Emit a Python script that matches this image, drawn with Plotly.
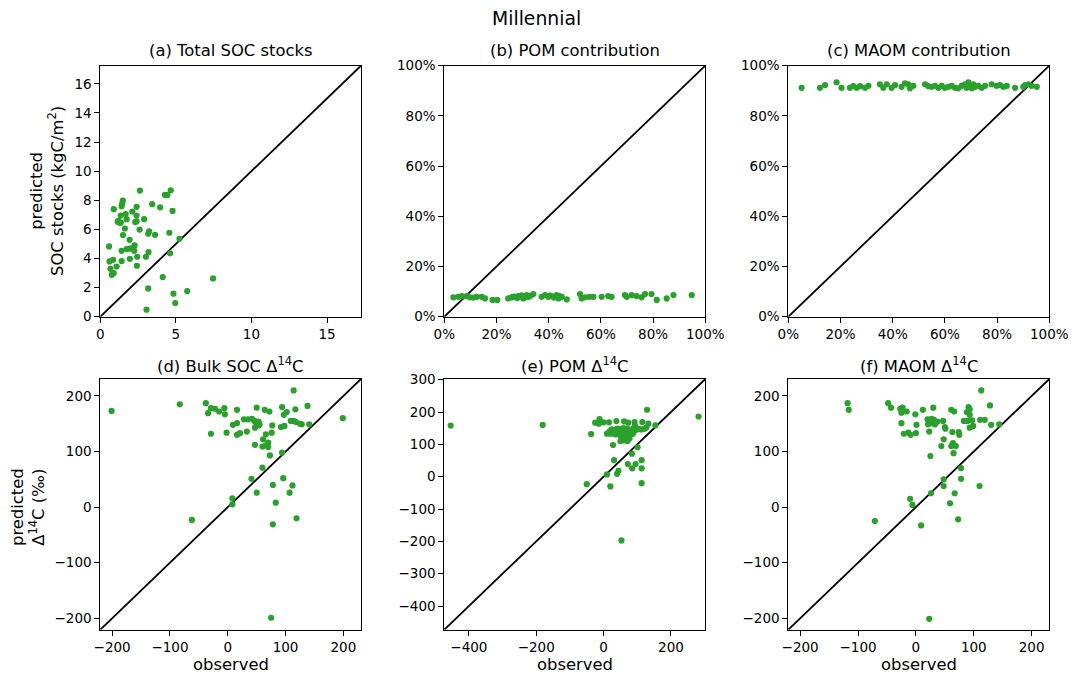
import plotly.graph_objects as go

# ---------------- data ----------------
# (a) total SOC stocks, kgC/m2
soc_obs = [2.62, 4.66, 4.28, 4.44, 1.49, 1.45, 1.41, 0.89, 2.40, 3.43, 3.96, 4.78,
           2.12, 1.68, 1.35, 2.40, 1.74, 2.90, 1.19, 1.28, 1.36, 1.15, 2.31, 2.40,
           1.63, 2.60, 3.23, 3.17, 3.62, 4.57, 1.50, 5.24, 1.94, 0.58, 2.27, 2.12,
           1.94, 2.25, 1.41, 1.74, 3.19, 4.62, 2.44, 3.02, 1.96, 0.85, 0.61, 1.41,
           2.42, 1.08, 0.67, 0.89, 0.76, 4.13, 7.46, 3.17, 5.75, 4.84, 4.96, 3.06]
soc_pred = [8.67, 8.69, 8.37, 8.37, 7.98, 7.79, 7.59, 7.39, 7.55, 7.73, 7.52, 7.27,
            7.23, 7.05, 6.95, 6.95, 6.70, 6.70, 6.58, 6.45, 6.47, 6.52, 6.50, 6.56,
            6.06, 5.99, 5.86, 5.70, 5.63, 5.77, 5.61, 5.35, 5.28, 4.83, 4.90, 4.74,
            4.67, 4.53, 4.53, 4.65, 4.44, 4.35, 4.12, 4.12, 3.98, 3.91, 3.80, 3.82,
            3.50, 3.45, 3.29, 3.00, 2.88, 2.72, 2.63, 1.94, 1.76, 1.58, 0.94, 0.48]

# (b) POM share of SOC, %
pom_obs = [3.5, 5.4, 6.7, 8.6, 9.8, 11.1, 12.4, 14.3, 15.6, 18.5, 20.3, 24.5,
           25.8, 26.5, 27.1, 28.0, 28.4, 29.0, 29.6, 30.3, 30.9, 31.6, 32.2, 33.0,
           34.1, 37.3, 38.6, 39.9, 40.5, 41.1, 42.0, 43.0, 43.7, 44.0, 45.0, 46.9,
           52.0, 52.6, 53.9, 55.6, 57.1, 60.3, 62.8, 64.1, 69.2, 69.9, 71.8, 73.7,
           75.6, 76.9, 79.4, 81.4, 85.2, 87.8, 94.8]
pom_pred = [7.7, 7.9, 8.2, 8.2, 7.7, 7.6, 7.9, 7.9, 7.3, 6.7, 6.7, 7.3,
            7.7, 8.0, 7.9, 7.5, 8.2, 8.0, 8.5, 7.3, 7.7, 8.6, 7.9, 8.3,
            9.0, 7.9, 8.6, 7.9, 8.4, 8.2, 7.6, 8.6, 7.3, 8.3, 7.9, 6.9,
            9.0, 7.3, 7.7, 7.9, 7.9, 7.9, 8.2, 7.9, 8.6, 7.9, 8.6, 8.2,
            7.7, 9.0, 9.0, 6.7, 7.3, 8.6, 8.6]

# (c) MAOM share of SOC, %
maom_obs = [5.1, 12.1, 14.1, 18.5, 20.4, 23.6, 24.9, 26.2, 27.5, 29.4, 30.7, 35.1,
            36.4, 37.7, 39.6, 40.9, 43.4, 44.7, 46.0, 46.6, 47.9, 52.4, 53.6, 54.9,
            56.2, 57.5, 58.8, 60.0, 61.3, 62.6, 63.9, 65.1, 66.4, 67.7, 68.3, 69.0,
            69.6, 70.3, 70.9, 71.5, 72.8, 74.1, 75.4, 77.9, 79.8, 81.1, 82.4, 83.7,
            86.9, 90.0, 90.7, 92.0, 93.2, 95.2]
maom_pred = [91.2, 91.2, 92.3, 93.4, 91.2, 91.2, 91.9, 91.2, 91.9, 91.2, 92.0, 92.6,
             91.2, 92.6, 91.2, 92.3, 91.6, 93.0, 92.6, 91.0, 92.0, 92.6, 91.9, 91.6,
             92.0, 91.2, 92.0, 91.2, 91.6, 92.0, 91.2, 91.0, 92.0, 92.6, 91.2, 93.4,
             91.6, 91.0, 92.6, 91.6, 92.0, 91.2, 92.0, 92.6, 92.0, 92.3, 91.6, 92.0,
             91.2, 91.6, 92.3, 92.6, 92.0, 91.6]

# (d) bulk SOC radiocarbon, permil
bulk14_obs = [-201, -83, -38, -34, -29, -22, -15, -6, -5, -29, -2, 16, 9, 16, 21, 16,
              28, 35, 42, 46, 50, 53, 47, 53, 55, 49, 33, 50, 64, 72, 77, 76, 66, 61,
              47, 60, 66, 70, 70, 73, 94, 60, 41, 78, 96, 112, 50, 107, 8, 8, 83,
              -62, 119, 78, 94, 102, 97, 117, 138, 114, 109, 114, 118, 125, 128, 141,
              92, 98, 199, 75]
bulk14_pred = [173, 185, 187, 169, 178, 177, 172, 178, 167, 132, 134, 175, 148, 151,
               133, 130, 158, 158, 159, 155, 151, 154, 143, 147, 149, 152, 136, 179,
               175, 172, 147, 134, 131, 122, 112, 109, 111, 116, 108, 93, 98, 71, 51,
               40, 52, 39, 26, 26, 16, 5, 8, -23, -20, -31, 180, 171, 166, 176, 182,
               210, 155, 155, 153, 150, 149, 149, 144, 146, 160, -199]

# (e) POM radiocarbon, permil
pom14_obs = [-454, -181, -37, -50, -25, -12, -14, 0, 16, 38, 61, 73, 92, 115, 93,
             129, 133, 154, 282, 10, 18, 24, 28, 36, 42, 48, 53, 59, 65, 71, 77, 83,
             89, 95, 103, 111, 121, 127, 22, 34, 48, 59, 71, 81, 50, 61, 71, 77, 65,
             53, 28, 87, 84, 101, 31, 113, 72, 95, 85, 113, 44, 40, 10, 20, 113, 53]
pom14_pred = [158, 160, 132, -23, 167, 178, 164, 168, 168, 172, 171, 167, 169, 169,
              158, 207, 164, 159, 186, 133, 140, 146, 137, 146, 149, 140, 146, 150,
              144, 148, 141, 146, 148, 144, 148, 146, 148, 152, 133, 131, 128, 131,
              133, 131, 110, 112, 110, 118, 123, 123, 98, 133, 71, 91, 51, 51, 39,
              39, 26, 26, 18, 9, 7, -30, -20, -197]

# (f) MAOM radiocarbon, permil
maom14_obs = [-118, -116, -48, -43, -27, -23, -25, -16, -1, 12, 30, -25, -21, -13,
              -9, 0, 1, 20, 27, 31, 35, 37, 21, 28, 33, 23, 47, 50, 51, 61, 66, 63,
              74, 75, 48, 44, 61, 64, 69, 65, 25, 91, 93, 88, 93, 83, 89, 97, 111,
              119, 93, 99, 130, 144, 128, 113, 78, 48, 48, 78, 110, 26, 67, -10, -6,
              59, -71, 9, 73, 23]
maom14_pred = [187, 175, 187, 179, 177, 179, 170, 172, 167, 175, 179, 151, 132, 134,
               130, 133, 148, 158, 159, 157, 153, 154, 149, 151, 149, 136, 155, 144,
               141, 175, 172, 135, 135, 130, 122, 110, 110, 115, 110, 97, 92, 180,
               176, 171, 166, 155, 155, 156, 157, 157, 143, 146, 148, 149, 183, 210,
               70, 50, 38, 51, 38, 25, 25, 15, 4, 7, -25, -33, -22, -201]

panel_titles = ["(a) Total SOC stocks", "(b) POM contribution", "(c) MAOM contribution",
                "(d) Bulk SOC Δ<sup>14</sup>C", "(e) POM Δ<sup>14</sup>C",
                "(f) MAOM Δ<sup>14</sup>C"]

soc_ticks = [0, 2, 4, 6, 8, 10, 12, 14, 16]
soc_xticks = [0, 5, 10, 15]
pct_ticks = [0, 20, 40, 60, 80, 100]
d14_ticks = [-200, -100, 0, 100, 200]
pom14_xticks = [-400, -200, 0, 200]
pom14_yticks = [-400, -300, -200, -100, 0, 100, 200, 300]

# ---------------- layout helpers ----------------
W, H = 1072, 677
GREEN = "#2ca02c"
FONT = "DejaVu Sans"

col_dom = [[100.3 / W, 361.0 / W], [444.3 / W, 705.3 / W], [788.3 / W, 1049.3 / W]]
row_dom = [[1 - 316.7 / H, 1 - 65.7 / H], [1 - 629.7 / H, 1 - 379.0 / H]]

panels = [
    dict(x=soc_obs, y=soc_pred, lim=[0, 17.25], xt=soc_xticks, yt=soc_ticks, suf=""),
    dict(x=pom_obs, y=pom_pred, lim=[0, 100], xt=pct_ticks, yt=pct_ticks, suf="%"),
    dict(x=maom_obs, y=maom_pred, lim=[0, 100], xt=pct_ticks, yt=pct_ticks, suf="%"),
    dict(x=bulk14_obs, y=bulk14_pred, lim=[-220.5, 230.5], xt=d14_ticks, yt=d14_ticks, suf=""),
    dict(x=pom14_obs, y=pom14_pred, lim=[-473, 302], xt=pom14_xticks, yt=pom14_yticks, suf=""),
    dict(x=maom14_obs, y=maom14_pred, lim=[-220.5, 230.5], xt=d14_ticks, yt=d14_ticks, suf=""),
]


def tick_text(vals, suffix):
    # matplotlib-style labels with a true minus sign
    return [("\u2212" if v < 0 else "") + f"{abs(v):g}" + suffix for v in vals]


fig = go.Figure()
layout = dict(
    width=W, height=H,
    margin=dict(l=0, r=0, t=0, b=0, autoexpand=False),
    paper_bgcolor="white", plot_bgcolor="white",
    showlegend=False,
    font=dict(family=FONT, size=13.5, color="black"),
)
annotations = []

for i, p in enumerate(panels):
    r, c = divmod(i, 3)
    n = "" if i == 0 else str(i + 1)
    xa, ya = "x" + n, "y" + n

    # 1:1 reference line across the full axis range
    fig.add_trace(go.Scatter(x=p["lim"], y=p["lim"], mode="lines",
                             line=dict(color="black", width=1.8),
                             xaxis=xa, yaxis=ya, hoverinfo="skip"))
    fig.add_trace(go.Scatter(x=p["x"], y=p["y"], mode="markers",
                             marker=dict(color=GREEN, size=6.2, line=dict(width=0)),
                             xaxis=xa, yaxis=ya))

    common = dict(showline=True, mirror=True, linecolor="black", linewidth=1,
                  ticks="outside", ticklen=5, tickwidth=1, tickcolor="black",
                  showgrid=False, zeroline=False, automargin=False,
                  tickfont=dict(family=FONT, size=13.5, color="black"),
                  range=p["lim"], tickmode="array")
    layout["xaxis" + n] = dict(common, domain=col_dom[c], anchor=ya,
                               tickvals=p["xt"], ticktext=tick_text(p["xt"], p["suf"]))
    layout["yaxis" + n] = dict(common, domain=row_dom[r], anchor=xa,
                               tickvals=p["yt"], ticktext=tick_text(p["yt"], p["suf"]))

    cx = (col_dom[c][0] + col_dom[c][1]) / 2
    ty = 1 - (51.0 if r == 0 else 364.5) / H
    annotations.append(dict(text=panel_titles[i], x=cx, y=ty, xref="paper", yref="paper",
                            xanchor="center", yanchor="middle", showarrow=False,
                            font=dict(family=FONT, size=16.4, color="black")))
    if r == 1:
        annotations.append(dict(text="observed", x=cx, y=1 - 664.0 / H,
                                xref="paper", yref="paper", xanchor="center",
                                yanchor="middle", showarrow=False,
                                font=dict(family=FONT, size=16.4, color="black")))

annotations.append(dict(text="predicted<br>SOC stocks (kgC/m<sup>2</sup>)",
                        x=47.0 / W, y=1 - 191.0 / H, xref="paper", yref="paper",
                        xanchor="center", yanchor="middle", textangle=-90,
                        showarrow=False, font=dict(family=FONT, size=16.4, color="black")))
annotations.append(dict(text="predicted<br>Δ<sup>14</sup>C (‰)",
                        x=28.0 / W, y=1 - 507.0 / H, xref="paper", yref="paper",
                        xanchor="center", yanchor="middle", textangle=-90,
                        showarrow=False, font=dict(family=FONT, size=16.4, color="black")))
annotations.append(dict(text="Millennial", x=0.5, y=1 - 19.0 / H, xref="paper", yref="paper",
                        xanchor="center", yanchor="middle", showarrow=False,
                        font=dict(family=FONT, size=18.8, color="black")))

layout["annotations"] = annotations
fig.update_layout(**layout)
fig.write_html("out.html")
